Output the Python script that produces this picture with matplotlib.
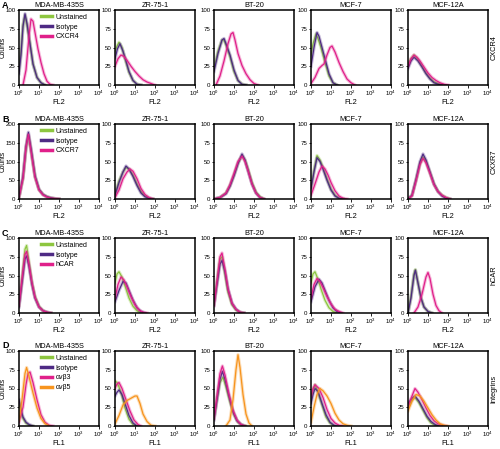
import numpy as np
import matplotlib.pyplot as plt
from matplotlib.lines import Line2D
from matplotlib.ticker import NullLocator

plt.rcParams['font.family'] = ['Liberation Sans', 'DejaVu Sans']
plt.rcParams['mathtext.default'] = 'regular'

cell_lines = ['MDA-MB-435S', 'ZR-75-1', 'BT-20', 'MCF-7', 'MCF-12A']
row_letters = ['A', 'B', 'C', 'D']
row_markers = ['CXCR4', 'CXXR7', 'hCAR', 'Integrins']
row_channels = ['FL2', 'FL2', 'FL2', 'FL1']
decade_ticks = [0, 1, 2, 3, 4]

# each curve: (log10 fluorescence, counts), one curve per cell line
# row A - CXCR4
a_unstained = [
    [(0, 20), (0.1, 45), (0.2, 80), (0.3, 93), (0.4, 80), (0.55, 55), (0.7, 28), (0.9, 10), (1.1, 3), (1.3, 0)],
    [(0, 45), (0.1, 52), (0.2, 57), (0.35, 50), (0.5, 35), (0.7, 17), (0.9, 6), (1.1, 1), (1.3, 0)],
    [(0, 22), (0.2, 45), (0.4, 60), (0.5, 60), (0.65, 50), (0.8, 38), (1.0, 18), (1.2, 6), (1.4, 1), (1.6, 0)],
    [(0, 40), (0.1, 55), (0.25, 68), (0.35, 62), (0.5, 50), (0.7, 30), (0.9, 12), (1.1, 3), (1.3, 0)],
    [(0, 28), (0.15, 35), (0.3, 40), (0.5, 34), (0.7, 25), (0.9, 16), (1.1, 9), (1.3, 4), (1.5, 2), (1.7, 0)],
]
a_isotype = [
    [(0, 15), (0.1, 40), (0.2, 78), (0.3, 95), (0.4, 82), (0.55, 55), (0.7, 28), (0.9, 10), (1.1, 3), (1.3, 0)],
    [(0, 35), (0.12, 48), (0.25, 55), (0.4, 45), (0.55, 32), (0.7, 18), (0.9, 6), (1.1, 1), (1.3, 0)],
    [(0, 18), (0.2, 42), (0.4, 60), (0.5, 62), (0.6, 55), (0.8, 40), (1.0, 20), (1.2, 6), (1.4, 1), (1.6, 0)],
    [(0, 25), (0.15, 50), (0.3, 70), (0.4, 65), (0.5, 55), (0.7, 35), (0.9, 15), (1.1, 3), (1.3, 0)],
    [(0, 22), (0.15, 32), (0.3, 37), (0.5, 32), (0.7, 24), (0.9, 15), (1.1, 8), (1.3, 3), (1.5, 1), (1.7, 0)],
]
a_cxcr4 = [
    [(0.2, 0), (0.35, 20), (0.5, 65), (0.6, 88), (0.7, 85), (0.8, 70), (0.95, 48), (1.1, 30), (1.25, 15), (1.4, 5), (1.55, 1), (1.7, 0)],
    [(0, 25), (0.15, 35), (0.3, 40), (0.45, 38), (0.6, 33), (0.8, 25), (1.0, 18), (1.2, 12), (1.4, 7), (1.6, 4), (1.8, 2), (2.0, 0)],
    [(0.1, 0), (0.3, 12), (0.5, 32), (0.7, 55), (0.85, 68), (0.95, 70), (1.05, 60), (1.2, 42), (1.4, 26), (1.6, 15), (1.8, 7), (2.0, 2), (2.2, 0)],
    [(0, 2), (0.2, 10), (0.4, 22), (0.55, 26), (0.65, 28), (0.8, 40), (0.95, 50), (1.05, 52), (1.2, 44), (1.4, 30), (1.6, 18), (1.8, 8), (2.0, 3), (2.2, 0)],
    [(0, 25), (0.15, 35), (0.3, 40), (0.45, 37), (0.6, 32), (0.8, 24), (1.0, 16), (1.2, 10), (1.4, 6), (1.6, 3), (1.8, 1), (2.0, 0)],
]

# row B - CXXR7
b_unstained = [
    [(0, 4), (0.2, 55), (0.35, 135), (0.47, 170), (0.6, 130), (0.8, 60), (1.0, 25), (1.2, 12), (1.4, 6), (1.6, 3), (1.8, 1), (2.0, 0)],
    [(0, 6), (0.2, 24), (0.4, 36), (0.55, 42), (0.7, 40), (0.9, 32), (1.1, 20), (1.3, 10), (1.5, 4), (1.7, 1), (1.9, 0)],
    [(0, 0), (0.3, 2), (0.6, 8), (0.8, 18), (1.0, 32), (1.2, 48), (1.4, 58), (1.55, 52), (1.7, 40), (1.9, 22), (2.1, 9), (2.3, 3), (2.5, 0)],
    [(0, 15), (0.15, 38), (0.3, 58), (0.45, 52), (0.6, 42), (0.8, 27), (1.0, 13), (1.2, 5), (1.4, 1), (1.6, 0)],
    [(0, 0), (0.2, 5), (0.4, 25), (0.6, 47), (0.75, 56), (0.9, 50), (1.1, 35), (1.3, 20), (1.5, 10), (1.7, 5), (1.9, 2), (2.1, 0)],
]
b_isotype = [
    [(0, 5), (0.2, 60), (0.35, 140), (0.47, 178), (0.6, 135), (0.8, 62), (1.0, 26), (1.2, 12), (1.4, 6), (1.6, 3), (1.8, 1), (2.0, 0)],
    [(0, 5), (0.2, 22), (0.4, 36), (0.55, 44), (0.7, 40), (0.9, 30), (1.1, 18), (1.3, 8), (1.5, 3), (1.7, 1), (1.9, 0)],
    [(0, 0), (0.3, 2), (0.6, 7), (0.8, 17), (1.0, 31), (1.2, 47), (1.4, 60), (1.55, 52), (1.7, 38), (1.9, 20), (2.1, 8), (2.3, 2), (2.5, 0)],
    [(0, 14), (0.15, 36), (0.3, 55), (0.45, 50), (0.6, 40), (0.8, 25), (1.0, 12), (1.2, 4), (1.4, 1), (1.6, 0)],
    [(0, 0), (0.2, 5), (0.4, 26), (0.6, 50), (0.75, 60), (0.9, 52), (1.1, 36), (1.3, 20), (1.5, 10), (1.7, 4), (1.9, 1), (2.1, 0)],
]
b_cxxr7 = [
    [(0, 4), (0.2, 55), (0.35, 138), (0.47, 172), (0.6, 128), (0.8, 58), (1.0, 24), (1.2, 11), (1.4, 5), (1.6, 2), (1.8, 1), (2.0, 0)],
    [(0, 2), (0.2, 12), (0.4, 27), (0.6, 36), (0.75, 40), (0.9, 37), (1.1, 27), (1.3, 14), (1.5, 6), (1.7, 2), (1.9, 0)],
    [(0, 0), (0.3, 2), (0.6, 8), (0.8, 19), (1.0, 34), (1.2, 50), (1.4, 57), (1.55, 50), (1.7, 38), (1.9, 20), (2.1, 8), (2.3, 2), (2.5, 0)],
    [(0, 5), (0.2, 20), (0.4, 36), (0.55, 44), (0.7, 40), (0.85, 32), (1.0, 22), (1.2, 11), (1.4, 4), (1.6, 1), (1.8, 0)],
    [(0, 0), (0.2, 4), (0.4, 24), (0.6, 46), (0.75, 54), (0.9, 48), (1.1, 34), (1.3, 19), (1.5, 10), (1.7, 5), (1.9, 2), (2.1, 0)],
]

# row C - hCAR
c_unstained = [
    [(0, 10), (0.15, 45), (0.3, 85), (0.38, 90), (0.5, 68), (0.65, 40), (0.8, 22), (1.0, 9), (1.2, 3), (1.4, 1), (1.6, 0)],
    [(0, 40), (0.1, 52), (0.2, 55), (0.35, 48), (0.5, 36), (0.7, 20), (0.9, 9), (1.1, 3), (1.3, 0)],
    [(0, 12), (0.15, 42), (0.3, 72), (0.4, 75), (0.55, 52), (0.7, 28), (0.9, 11), (1.1, 4), (1.3, 1), (1.5, 0)],
    [(0, 40), (0.1, 52), (0.2, 55), (0.35, 45), (0.5, 32), (0.7, 17), (0.9, 7), (1.1, 2), (1.3, 0)],
    [(0, 0), (0.15, 22), (0.3, 52), (0.37, 58), (0.5, 40), (0.65, 20), (0.8, 8), (1.0, 2), (1.2, 0)],
]
c_isotype = [
    [(0, 8), (0.15, 40), (0.3, 72), (0.38, 76), (0.5, 62), (0.65, 38), (0.8, 20), (1.0, 8), (1.2, 3), (1.4, 1), (1.6, 0)],
    [(0, 15), (0.2, 30), (0.4, 42), (0.55, 40), (0.7, 30), (0.9, 17), (1.1, 7), (1.3, 2), (1.5, 0)],
    [(0, 10), (0.15, 38), (0.3, 65), (0.4, 70), (0.55, 55), (0.7, 32), (0.9, 13), (1.1, 5), (1.3, 1), (1.5, 0)],
    [(0, 15), (0.2, 35), (0.4, 45), (0.55, 40), (0.7, 30), (0.9, 17), (1.1, 7), (1.3, 2), (1.5, 0)],
    [(0, 0), (0.15, 20), (0.3, 50), (0.37, 57), (0.5, 40), (0.65, 20), (0.8, 8), (1.0, 2), (1.2, 0)],
]
c_hcar = [
    [(0, 10), (0.15, 45), (0.3, 78), (0.38, 82), (0.5, 65), (0.65, 40), (0.8, 21), (1.0, 8), (1.2, 3), (1.4, 1), (1.6, 0)],
    [(0, 20), (0.15, 38), (0.3, 48), (0.45, 44), (0.6, 35), (0.8, 22), (1.0, 11), (1.2, 4), (1.4, 1), (1.6, 0)],
    [(0, 10), (0.15, 42), (0.3, 75), (0.4, 80), (0.55, 58), (0.7, 32), (0.9, 13), (1.1, 5), (1.3, 1), (1.5, 0)],
    [(0, 20), (0.15, 38), (0.3, 46), (0.45, 42), (0.6, 34), (0.8, 22), (1.0, 12), (1.2, 5), (1.4, 2), (1.6, 0)],
    [(0.3, 0), (0.5, 8), (0.7, 25), (0.9, 48), (1.0, 54), (1.1, 46), (1.25, 25), (1.4, 10), (1.55, 3), (1.7, 0)],
]

# row D - integrins (FL1)
d_unstained = [
    [(0, 30), (0.1, 18), (0.2, 10), (0.35, 4), (0.5, 1), (0.7, 0)],
    [(0, 60), (0.1, 58), (0.2, 52), (0.35, 40), (0.5, 24), (0.7, 9), (0.9, 2), (1.1, 0)],
    [(0, 10), (0.15, 36), (0.3, 58), (0.45, 65), (0.6, 52), (0.8, 32), (1.0, 15), (1.2, 5), (1.4, 1), (1.6, 0)],
    [(0, 35), (0.1, 48), (0.2, 55), (0.35, 45), (0.55, 28), (0.75, 12), (0.95, 4), (1.15, 0)],
    [(0, 25), (0.2, 35), (0.35, 38), (0.55, 31), (0.75, 21), (0.95, 11), (1.15, 4), (1.35, 1), (1.5, 0)],
]
d_isotype = [
    [(0, 35), (0.1, 22), (0.2, 12), (0.35, 5), (0.5, 2), (0.7, 0)],
    [(0, 40), (0.1, 45), (0.2, 48), (0.35, 42), (0.5, 30), (0.7, 14), (0.9, 4), (1.1, 0)],
    [(0, 8), (0.15, 35), (0.3, 62), (0.42, 73), (0.55, 62), (0.75, 40), (0.95, 19), (1.15, 7), (1.35, 2), (1.55, 0)],
    [(0, 30), (0.1, 42), (0.2, 50), (0.35, 46), (0.55, 30), (0.75, 15), (0.95, 5), (1.15, 1), (1.3, 0)],
    [(0, 30), (0.2, 37), (0.35, 40), (0.55, 33), (0.75, 23), (0.95, 13), (1.15, 6), (1.35, 2), (1.55, 0)],
]
d_avb3 = [
    [(0, 5), (0.2, 25), (0.35, 55), (0.45, 70), (0.55, 72), (0.7, 58), (0.9, 35), (1.1, 15), (1.3, 5), (1.5, 1), (1.7, 0)],
    [(0, 50), (0.1, 56), (0.2, 58), (0.35, 50), (0.55, 35), (0.75, 20), (0.95, 8), (1.15, 2), (1.3, 0)],
    [(0, 10), (0.15, 40), (0.3, 70), (0.42, 80), (0.55, 68), (0.75, 42), (0.95, 21), (1.15, 8), (1.35, 2), (1.55, 0)],
    [(0, 40), (0.1, 50), (0.2, 55), (0.4, 50), (0.6, 38), (0.8, 22), (1.0, 10), (1.2, 4), (1.4, 1), (1.6, 0)],
    [(0, 25), (0.2, 40), (0.35, 50), (0.5, 45), (0.7, 35), (0.9, 24), (1.1, 14), (1.3, 7), (1.5, 3), (1.7, 1), (1.9, 0)],
]
d_avb5 = [
    [(0, 8), (0.15, 35), (0.3, 70), (0.38, 78), (0.5, 66), (0.7, 44), (0.9, 24), (1.1, 10), (1.3, 3), (1.5, 0)],
    [(0, 3), (0.2, 14), (0.4, 28), (0.6, 34), (0.8, 37), (1.0, 40), (1.1, 40), (1.25, 30), (1.4, 16), (1.6, 6), (1.8, 1), (2.0, 0)],
    [(0.6, 0), (0.8, 8), (0.95, 35), (1.1, 75), (1.2, 95), (1.3, 78), (1.45, 42), (1.6, 16), (1.75, 4), (1.9, 0)],
    [(0, 5), (0.15, 25), (0.3, 42), (0.45, 50), (0.6, 47), (0.8, 40), (1.0, 30), (1.2, 17), (1.4, 8), (1.6, 3), (1.8, 1), (2.0, 0)],
    [(0, 20), (0.2, 33), (0.4, 42), (0.6, 40), (0.8, 33), (1.0, 24), (1.2, 15), (1.4, 8), (1.6, 3), (1.8, 1), (2.0, 0)],
]

green = '#8dc63f'
purple = '#4e2a84'
magenta = '#e0208a'
orange = '#f7941d'

rows = [
    ([a_unstained, a_isotype, a_cxcr4], ['Unstained', 'Isotype', 'CXCR4'], [green, purple, magenta]),
    ([b_unstained, b_isotype, b_cxxr7], ['Unstained', 'Isotype', 'CXCR7'], [green, purple, magenta]),
    ([c_unstained, c_isotype, c_hcar], ['Unstained', 'Isotype', 'hCAR'], [green, purple, magenta]),
    ([d_unstained, d_isotype, d_avb3, d_avb5], ['Unstained', 'Isotype', 'αvβ3', 'αvβ5'],
     [green, purple, magenta, orange]),
]

W, H = 500, 449
fig = plt.figure(figsize=(W / 100, H / 100), dpi=100)
col_left = [19, 115, 214, 311, 408]
row_top = [10, 124, 238, 351]
aw, ah = 80, 75

for r in range(4):
    series, labels, colors = rows[r]
    for c in range(5):
        ax = fig.add_axes([col_left[c] / W, 1 - (row_top[r] + ah) / H, aw / W, ah / H])
        for s in range(len(series)):
            d, n = zip(*series[s][c])
            x = 10 ** np.array(d)
            ax.plot(x, n, color=colors[s], lw=2.4, alpha=0.3, solid_joinstyle='round')
            ax.plot(x, n, color=colors[s], lw=0.9)
        ax.set_xscale('log')
        ax.set_xlim(1, 1e4)
        ax.set_xticks([10 ** k for k in decade_ticks])
        ax.set_xticklabels([r'$10^{%d}$' % k for k in decade_ticks])
        ax.xaxis.set_minor_locator(NullLocator())
        if r == 1 and c == 0:
            ax.set_ylim(0, 200)
            ax.set_yticks([0, 50, 100, 150, 200])
        else:
            ax.set_ylim(0, 100)
            ax.set_yticks([0, 25, 50, 75, 100])
        ax.tick_params(labelsize=4.4, length=1.8, width=0.6, pad=0.8)
        for sp in ax.spines.values():
            sp.set_linewidth(1.1)
        ax.set_title(cell_lines[c], fontsize=5.3, pad=2.5)
        ax.set_xlabel(row_channels[r], fontsize=5.3, labelpad=0.5)
        if c == 0:
            handles = [Line2D([], [], color=col, lw=2.5) for col in colors]
            ax.legend(handles, labels, loc='upper left', bbox_to_anchor=(0.28, 0.95),
                      fontsize=5, frameon=False, handlelength=1.5, handletextpad=0.5,
                      labelspacing=0.4, borderpad=0, borderaxespad=0)
    fig.text(2 / W, 1 - (row_top[r] - 5) / H, row_letters[r], fontsize=6.5,
             weight='bold', va='center', ha='left')
    fig.text(2.8 / W, 1 - (row_top[r] + ah / 2) / H, 'Counts', fontsize=4.8,
             rotation=90, va='center', ha='center')
    fig.text(494 / W, 1 - (row_top[r] + ah / 2) / H, row_markers[r], fontsize=5.3,
             rotation=90, va='center', ha='center')

fig.savefig('out.png', dpi=100)
